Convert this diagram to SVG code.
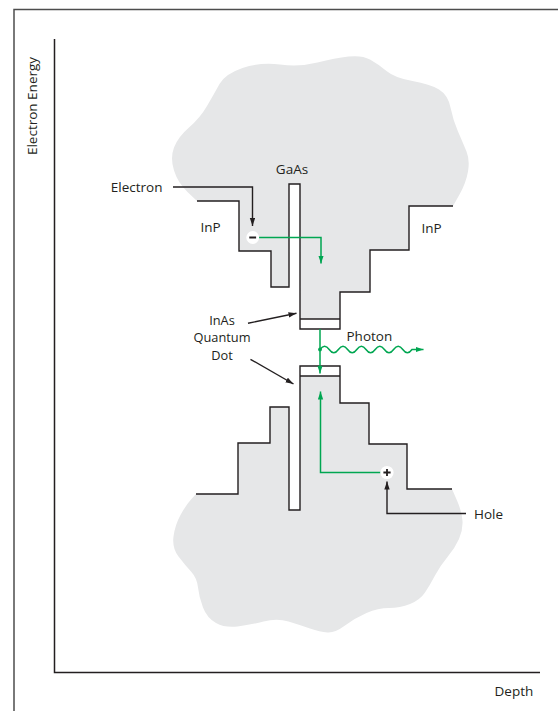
<svg xmlns="http://www.w3.org/2000/svg" width="558" height="711" viewBox="0 0 558 711">
<style>
  text { font-family: "Open Sans", "Liberation Sans", sans-serif; font-size: 13.5px; fill: #231f20; }
  text.qd { font-size: 12.8px; }
  .band { fill: none; stroke: #231f20; stroke-width: 1.4; }
  .lead { fill: none; stroke: #231f20; stroke-width: 1.4; }
  .green { fill: none; stroke: #00a651; stroke-width: 1.5; }
  .axis { fill: none; stroke: #231f20; stroke-width: 1.5; }
</style>
<defs>
  <marker id="ah" markerUnits="userSpaceOnUse" markerWidth="9" markerHeight="6" refX="8" refY="2.7" orient="auto">
    <path d="M0,0 L8,2.7 L0,5.4 Z" fill="#231f20"/>
  </marker>
  <marker id="ahg" markerUnits="userSpaceOnUse" markerWidth="9" markerHeight="6" refX="8" refY="2.7" orient="auto">
    <path d="M0,0 L8,2.7 L0,5.4 Z" fill="#00a651"/>
  </marker>
</defs>
<rect width="558" height="711" fill="#ffffff"/>
<g id="frame">
  <path d="M14,711 V9.5 H558" fill="none" stroke="#4d4d4d" stroke-width="1.5"/>
</g>
<g id="axes">
  <path class="axis" d="M54.5,39 V672.5 H540"/>
  <text transform="translate(36.5,106) rotate(-90)" text-anchor="middle">Electron Energy</text>
  <text x="494.5" y="695.5">Depth</text>
</g>
<g id="bands">
  <path id="blob" fill="#e6e7e8" d="M197,201 L187.5,192 Q178,183 174,170.5 Q170,158 174,147.5 Q178,137 189,127.5 Q200,118 207,106 Q214,94 219.5,84 Q225,74 242.5,68 Q260,62 280,64.5 Q300,67 317.5,62.5 Q335,58 348.5,56.5 Q362,55 370,59.5 Q378,64 386.5,71 Q395,78 412.5,81 Q430,84 439,89.5 Q448,95 450.5,107.5 Q453,120 458,131.5 Q463,143 466.5,151.5 Q470,160 468,171.5 Q466,183 459.5,194.5 L453,206 L452,489 L457,500.5 Q462,512 462.5,521 Q463,530 459,539 Q455,548 447.5,557 Q440,566 435,575.5 Q430,585 425,592.5 Q420,600 410,604 Q400,608 389,608 Q378,608 366.5,613 Q355,618 345,625.5 Q335,633 327.5,632.5 Q320,632 310,628.5 Q300,625 288.5,621.5 Q277,618 263.5,621.5 Q250,625 237.5,626.5 Q225,628 216,623 Q207,618 203,607.5 Q199,597 198,587.5 Q197,578 191,571.5 Q185,565 178.5,556.5 Q172,548 173.5,536.5 Q175,525 180.5,515 Q186,505 191,499.5 L196,494 Z"/>
  <path id="gap" fill="#ffffff" d="M140,201 H239 V251 H271 V287 H289 V184 H300 V329 H340 V292 H370 V250 H409 V206 H510 V489 H407 V444 H369 V403 H340 V366 H300 V510 H289 V407 H270 V443 H238 V494 H140 Z"/>
  <rect x="300" y="319" width="40" height="10" fill="#ffffff"/>
  <rect x="300" y="366" width="40" height="10" fill="#ffffff"/>
  <path class="band" d="M197,201 H239 V251 H271 V287 H289 V184 H300 V329 H340 V292 H370 V250 H409 V206 H453"/>
  <path class="band" d="M300,319 H340"/>
  <path class="band" d="M196,494 H238 V443 H270 V407 H289 V510 H300 V366 H340 V403 H369 V444 H407 V489 H452"/>
  <path class="band" d="M300,376 H340"/>
</g>
<g id="labels">
  <text x="292" y="174" text-anchor="middle">GaAs</text>
  <text x="200.5" y="232">InP</text>
  <text x="421.5" y="233">InP</text>
  <text class="qd" x="222" y="324.5" text-anchor="middle">InAs</text>
  <text class="qd" x="222" y="342" text-anchor="middle">Quantum</text>
  <text class="qd" x="222" y="359.5" text-anchor="middle">Dot</text>
  <text x="346.5" y="340.5">Photon</text>
</g>
<g id="connectors">
  <path class="lead" d="M173,187 H252.5 V226" marker-end="url(#ah)"/>
  <path class="lead" d="M248,323.3 L296.5,313.3" marker-end="url(#ah)"/>
  <path class="lead" d="M250.5,359.3 L293.5,384" marker-end="url(#ah)"/>
  <path class="lead" d="M466,513.5 H387 V481.5" marker-end="url(#ah)"/>
  <path class="green" d="M259,237.5 H321 V263.5" marker-end="url(#ahg)"/>
  <path class="green" d="M320,329 V373.5" marker-end="url(#ahg)"/>
  <path class="green" d="M320,349.5 q4.6,-6.5 9.2,0 t9.2,0 t9.2,0 t9.2,0 t9.2,0 t9.2,0 t9.2,0 t9.2,0 t9.2,0 t9.2,0 h11.5" marker-end="url(#ahg)"/>
  <circle cx="320" cy="349.5" r="1.9" fill="#00a651"/>
  <path class="green" d="M380.5,472.5 H320.5 V391.5" marker-end="url(#ahg)"/>
</g>
<g id="electron">
  <text x="162.5" y="192" text-anchor="end">Electron</text>
  <circle cx="252.7" cy="237.5" r="6.4" fill="#ffffff"/>
  <path d="M249.3,237.5 H256.1" stroke="#231f20" stroke-width="2"/>
</g>
<g id="hole">
  <text x="474" y="518.5">Hole</text>
  <circle cx="387" cy="472.5" r="6.6" fill="#ffffff"/>
  <path d="M383.4,472.5 H390.6 M387,468.9 V476.1" stroke="#231f20" stroke-width="1.8"/>
</g>
</svg>
